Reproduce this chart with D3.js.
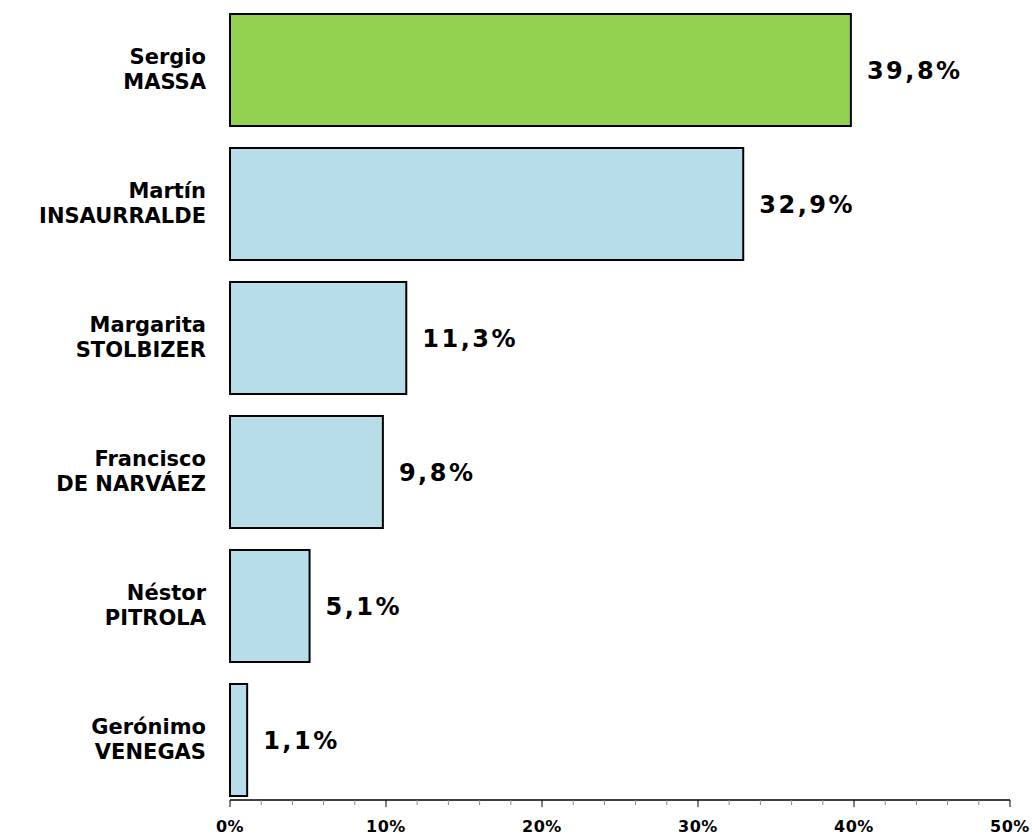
<!DOCTYPE html>
<html>
<head>
<meta charset="utf-8">
<script src="https://cdn.jsdelivr.net/npm/d3@7"></script>
<style>
  body { margin: 0; background: #fff; }
  text { font-family: "DejaVu Sans", Verdana, sans-serif; font-weight: bold; }
</style>
</head>
<body>
<div id="chart"></div>
<script>
var firstNames = ['Sergio', 'Martín', 'Margarita', 'Francisco', 'Néstor', 'Gerónimo']
var lastNames = ['MASSA', 'INSAURRALDE', 'STOLBIZER', 'DE NARVÁEZ', 'PITROLA', 'VENEGAS']
var values = [39.8, 32.9, 11.3, 9.8, 5.1, 1.1]
var colors = ['#92d050', '#b7dee8', '#b7dee8', '#b7dee8', '#b7dee8', '#b7dee8']
var tickValues = [0, 10, 20, 30, 40, 50]

var width = 1032, height = 836
var svg = d3.select('#chart').append('svg')
  .attr('width', width).attr('height', height)

var x = d3.scaleLinear().domain([0, 50]).range([230, 1010])
var y = d3.scaleBand().domain(d3.range(values.length))
  .range([3, 807]).paddingInner(0.164).paddingOuter(0.082)

var axisY = 800

svg.selectAll('rect.bar').data(values).join('rect')
  .attr('class', 'bar')
  .attr('x', x(0))
  .attr('y', (d, i) => y(i))
  .attr('width', d => x(d) - x(0))
  .attr('height', y.bandwidth())
  .attr('fill', (d, i) => colors[i])
  .attr('stroke', '#000')
  .attr('stroke-width', 2)

// value labels
svg.selectAll('text.val').data(values).join('text')
  .attr('class', 'val')
  .attr('x', d => x(d) + 16)
  .attr('y', (d, i) => y(i) + y.bandwidth() / 2)
  .attr('dy', '0.36em')
  .attr('font-size', 24)
  .attr('letter-spacing', 2.5)
  .text(d => d3.format('.1f')(d).replace('.', ',') + '%')

// category labels
var lab = svg.selectAll('text.cat').data(values).join('text')
  .attr('class', 'cat')
  .attr('text-anchor', 'end')
  .attr('font-size', 21)
lab.append('tspan').attr('x', 206)
  .attr('y', (d, i) => y(i) + y.bandwidth() / 2 - 6)
  .text((d, i) => firstNames[i])
lab.append('tspan').attr('x', 206)
  .attr('y', (d, i) => y(i) + y.bandwidth() / 2 + 19)
  .text((d, i) => lastNames[i])

// x axis
var g = svg.append('g').attr('transform', 'translate(0,' + axisY + ')')
g.append('line').attr('x1', x(0)).attr('x2', x(50)).attr('stroke', '#000').attr('stroke-width', 1.5)
g.selectAll('line.minor').data(d3.range(0, 51, 2)).join('line')
  .attr('class', 'minor')
  .attr('x1', d => x(d)).attr('x2', d => x(d))
  .attr('y1', 0).attr('y2', d => d % 10 === 0 ? 7 : 5)
  .attr('stroke', d => d % 10 === 0 ? '#000' : '#888')
  .attr('stroke-width', 1)
g.selectAll('text.tick').data(tickValues).join('text')
  .attr('class', 'tick')
  .attr('x', d => x(d)).attr('y', 32)
  .attr('text-anchor', 'middle')
  .attr('font-size', 16)
  .attr('letter-spacing', 0.5)
  .text(d => d + '%')
</script>
</body>
</html>
